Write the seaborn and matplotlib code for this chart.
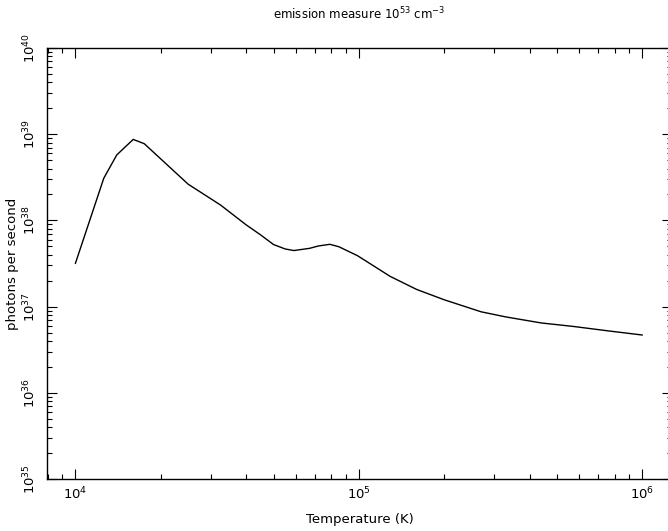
import numpy as np
import pandas as pd
import seaborn as sns
import matplotlib.pyplot as plt
from matplotlib.ticker import LogLocator, NullFormatter, FixedLocator

sns.set_style("ticks")
plt.rcParams['font.family'] = ['DejaVu Sans']
plt.rcParams['mathtext.default'] = 'regular'
plt.rcParams['text.color'] = 'black'
plt.rcParams['axes.labelcolor'] = 'black'
plt.rcParams['xtick.color'] = 'black'
plt.rcParams['ytick.color'] = 'black'

# data
temperature = [1.0e4, 1.26e4, 1.4e4, 1.6e4, 1.75e4, 2.5e4, 3.25e4, 4.0e4, 4.5e4,
               5.0e4, 5.5e4, 5.9e4, 6.7e4, 7.2e4, 7.9e4, 8.5e4, 9.9e4, 1.29e5,
               1.6e5, 2.0e5, 2.7e5, 3.3e5, 4.4e5, 5.7e5, 7.5e5, 1.0e6]
photons = [3.16e37, 3.09e38, 5.75e38, 8.7e38, 7.76e38, 2.63e38, 1.51e38, 8.9e37,
           6.8e37, 5.25e37, 4.66e37, 4.47e37, 4.74e37, 5.05e37, 5.28e37, 4.95e37,
           3.89e37, 2.24e37, 1.58e37, 1.2e37, 8.7e36, 7.59e36, 6.46e36, 5.89e36,
           5.25e36, 4.68e36]
x_ticks = [1e4, 1e5, 1e6]
x_ticklabels = ['$10^{4}$', '$10^{5}$', '$10^{6}$']
y_ticks = [1e35, 1e36, 1e37, 1e38, 1e39, 1e40]
y_ticklabels = ['$10^{35}$', '$10^{36}$', '$10^{37}$', '$10^{38}$', '$10^{39}$', '$10^{40}$']

df = pd.DataFrame({'T': temperature, 'P': photons})

fig = plt.figure(figsize=(6.68, 5.31), dpi=100)
# right spine sits just outside the picture, as in the original
ax = fig.add_axes([47 / 668, 1 - 479 / 531, 625 / 668, 431 / 531])

sns.lineplot(data=df, x='T', y='P', ax=ax, color='black', linewidth=1.0,
             sort=False, estimator=None)

ax.set_xscale('log')
ax.set_yscale('log')
ax.set_xlim(10 ** 3.9, 10 ** (3.9 + 625 / 283.5))
ax.set_ylim(1e35, 1e40)

ax.xaxis.set_major_locator(FixedLocator(x_ticks))
ax.set_xticklabels(x_ticklabels)
ax.yaxis.set_major_locator(FixedLocator(y_ticks))
ax.set_yticklabels(y_ticklabels, rotation=90, va='center')
for axis in (ax.xaxis, ax.yaxis):
    axis.set_minor_locator(LogLocator(base=10, subs=np.arange(2, 10), numticks=20))
    axis.set_minor_formatter(NullFormatter())

ax.tick_params(which='both', direction='in', top=True, right=True,
               color='black', width=0.8, labelsize=9.5)
ax.tick_params(which='major', length=7)
ax.tick_params(which='minor', length=3.5)
ax.tick_params(axis='x', pad=5)
ax.tick_params(axis='y', pad=6)

for s in ax.spines.values():
    s.set_color('black')
    s.set_linewidth(1.0)

ax.set_xlabel('Temperature (K)', fontsize=9.5, va='center')
ax.set_ylabel('photons per second', fontsize=9.5, va='center')
ax.xaxis.set_label_coords(0.5, -0.093)
ax.yaxis.set_label_coords(-0.0545, 0.5)
ax.set_title('emission measure $10^{53}$ cm$^{-3}$', fontsize=8.5,
             y=1.079, pad=0, va='center')

fig.savefig('out.png', dpi=100)
